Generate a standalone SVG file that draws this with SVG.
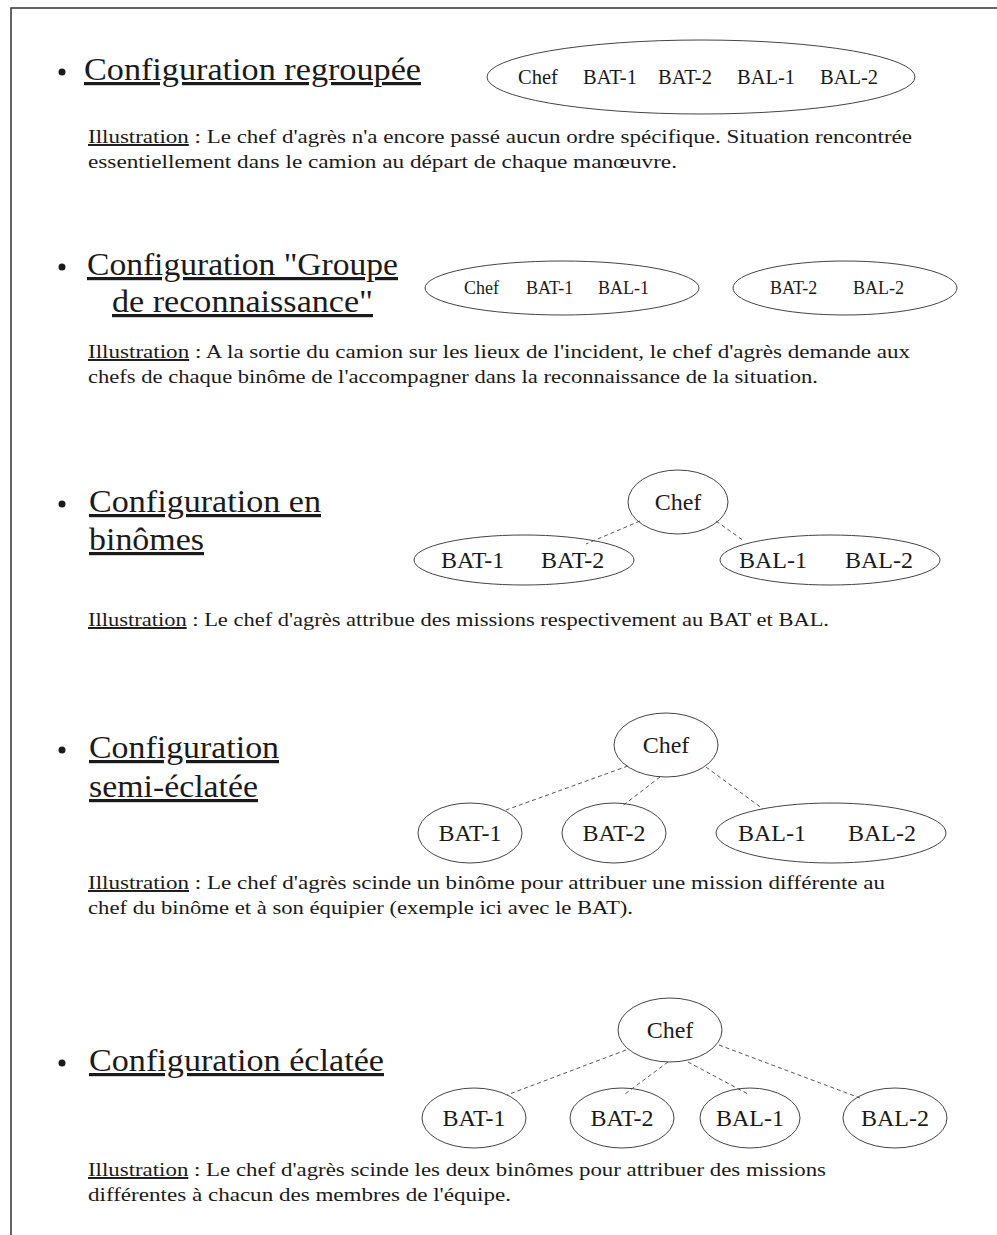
<svg xmlns="http://www.w3.org/2000/svg" width="997" height="1235" viewBox="0 0 997 1235">
<style>
.h{font-family:"Liberation Serif","DejaVu Serif",serif;font-size:32px;fill:#1a1a1a;text-decoration:underline}
.b{font-family:"Liberation Serif","DejaVu Serif",serif;font-size:19.5px;fill:#1a1a1a}
.u{text-decoration:underline}
.n{font-family:"Liberation Serif","DejaVu Serif",serif;fill:#1a1a1a}
.s1{font-size:20.5px}.s2{font-size:18px}.s3{font-size:24px}
.e{fill:none;stroke:#444;stroke-width:1}
.c{stroke:#555;stroke-width:1;stroke-dasharray:4 3;fill:none}
.dot{fill:#1a1a1a}
</style>
<rect width="997" height="1235" fill="#fff"/>
<path d="M11 1235 V8 H997" fill="none" stroke="#333" stroke-width="1.5"/>

<!-- Section 1 -->
<g id="sec1-title">
<circle class="dot" cx="62" cy="72" r="3.5"/>
<text class="h" x="84" y="80" textLength="337" lengthAdjust="spacingAndGlyphs">Configuration regroupée</text>
</g>
<g id="node-s1-group">
<ellipse class="e" cx="701" cy="77" rx="214" ry="37"/>
<text class="n s1" y="84"><tspan x="518">Chef</tspan><tspan x="583">BAT-1</tspan><tspan x="658">BAT-2</tspan><tspan x="737">BAL-1</tspan><tspan x="820">BAL-2</tspan></text>
</g>
<g id="sec1-text">
<text class="b" x="88" y="143" textLength="824" lengthAdjust="spacingAndGlyphs"><tspan class="u">Illustration</tspan> : Le chef d'agrès n'a encore passé aucun ordre spécifique. Situation rencontrée</text>
<text class="b" x="88" y="168" textLength="589" lengthAdjust="spacingAndGlyphs">essentiellement dans le camion au départ de chaque manœuvre.</text>
</g>

<!-- Section 2 -->
<g id="sec2-title">
<circle class="dot" cx="62" cy="267" r="3.5"/>
<text class="h" x="87" y="275" textLength="311" lengthAdjust="spacingAndGlyphs">Configuration "Groupe</text>
<text class="h" x="112" y="312" textLength="261" lengthAdjust="spacingAndGlyphs">de reconnaissance"</text>
</g>
<g id="node-s2-a">
<ellipse class="e" cx="562" cy="288" rx="137" ry="27"/>
<text class="n s2" y="294"><tspan x="464">Chef</tspan><tspan x="526">BAT-1</tspan><tspan x="598">BAL-1</tspan></text>
</g>
<g id="node-s2-b">
<ellipse class="e" cx="845" cy="288" rx="112" ry="27"/>
<text class="n s2" y="294"><tspan x="770">BAT-2</tspan><tspan x="853">BAL-2</tspan></text>
</g>
<g id="sec2-text">
<text class="b" x="88" y="358" textLength="822" lengthAdjust="spacingAndGlyphs"><tspan class="u">Illustration</tspan> : A la sortie du camion sur les lieux de l'incident, le chef d'agrès demande aux</text>
<text class="b" x="88" y="383" textLength="730" lengthAdjust="spacingAndGlyphs">chefs de chaque binôme de l'accompagner dans la reconnaissance de la situation.</text>
</g>

<!-- Section 3 -->
<g id="sec3-title">
<circle class="dot" cx="62" cy="504" r="3.5"/>
<text class="h" x="89" y="512" textLength="232" lengthAdjust="spacingAndGlyphs">Configuration en</text>
<text class="h" x="89" y="550" textLength="115" lengthAdjust="spacingAndGlyphs">binômes</text>
</g>
<g id="connectors-s3">
<line class="c" x1="640" y1="521" x2="586" y2="544"/>
<line class="c" x1="716" y1="521" x2="744" y2="541"/>
</g>
<g id="node-s3-chef">
<ellipse class="e" cx="678" cy="502" rx="50" ry="32"/>
<text class="n s3" x="678" y="510" text-anchor="middle">Chef</text>
</g>
<g id="node-s3-bat">
<ellipse class="e" cx="524" cy="560" rx="110" ry="25"/>
<text class="n s3" y="568"><tspan x="441">BAT-1</tspan><tspan x="541">BAT-2</tspan></text>
</g>
<g id="node-s3-bal">
<ellipse class="e" cx="830" cy="560" rx="110" ry="25"/>
<text class="n s3" y="568"><tspan x="739">BAL-1</tspan><tspan x="845">BAL-2</tspan></text>
</g>
<g id="sec3-text">
<text class="b" x="88" y="626" textLength="741" lengthAdjust="spacingAndGlyphs"><tspan class="u">Illustration</tspan> : Le chef d'agrès attribue des missions respectivement au BAT et BAL.</text>
</g>

<!-- Section 4 -->
<g id="sec4-title">
<circle class="dot" cx="62" cy="750" r="3.5"/>
<text class="h" x="89" y="758" textLength="190" lengthAdjust="spacingAndGlyphs">Configuration</text>
<text class="h" x="89" y="797" textLength="169" lengthAdjust="spacingAndGlyphs">semi-éclatée</text>
</g>
<g id="connectors-s4">
<line class="c" x1="628" y1="766" x2="506" y2="810"/>
<line class="c" x1="660" y1="777" x2="621" y2="807"/>
<line class="c" x1="706" y1="767" x2="763" y2="809"/>
</g>
<g id="node-s4-chef">
<ellipse class="e" cx="666" cy="745" rx="52" ry="32"/>
<text class="n s3" x="666" y="753" text-anchor="middle">Chef</text>
</g>
<g id="node-s4-bat1">
<ellipse class="e" cx="470" cy="833" rx="52" ry="30"/>
<text class="n s3" x="470" y="841" text-anchor="middle">BAT-1</text>
</g>
<g id="node-s4-bat2">
<ellipse class="e" cx="614" cy="833" rx="52" ry="30"/>
<text class="n s3" x="614" y="841" text-anchor="middle">BAT-2</text>
</g>
<g id="node-s4-bal">
<ellipse class="e" cx="831" cy="833" rx="115" ry="30"/>
<text class="n s3" y="841"><tspan x="738">BAL-1</tspan><tspan x="848">BAL-2</tspan></text>
</g>
<g id="sec4-text">
<text class="b" x="88" y="889" textLength="797" lengthAdjust="spacingAndGlyphs"><tspan class="u">Illustration</tspan> : Le chef d'agrès scinde un binôme pour attribuer une mission différente au</text>
<text class="b" x="88" y="914" textLength="545" lengthAdjust="spacingAndGlyphs">chef du binôme et à son équipier (exemple ici avec le BAT).</text>
</g>

<!-- Section 5 -->
<g id="sec5-title">
<circle class="dot" cx="62" cy="1063" r="3.5"/>
<text class="h" x="89" y="1071" textLength="295" lengthAdjust="spacingAndGlyphs">Configuration éclatée</text>
</g>
<g id="connectors-s5">
<line class="c" x1="626" y1="1050" x2="507" y2="1095"/>
<line class="c" x1="668" y1="1062" x2="625" y2="1094"/>
<line class="c" x1="688" y1="1062" x2="748" y2="1094"/>
<line class="c" x1="719" y1="1045" x2="860" y2="1098"/>
</g>
<g id="node-s5-chef">
<ellipse class="e" cx="670" cy="1030" rx="52" ry="32"/>
<text class="n s3" x="670" y="1038" text-anchor="middle">Chef</text>
</g>
<g id="node-s5-bat1">
<ellipse class="e" cx="474" cy="1118" rx="52" ry="30"/>
<text class="n s3" x="474" y="1126" text-anchor="middle">BAT-1</text>
</g>
<g id="node-s5-bat2">
<ellipse class="e" cx="622" cy="1118" rx="52" ry="30"/>
<text class="n s3" x="622" y="1126" text-anchor="middle">BAT-2</text>
</g>
<g id="node-s5-bal1">
<ellipse class="e" cx="750" cy="1118" rx="50" ry="30"/>
<text class="n s3" x="750" y="1126" text-anchor="middle">BAL-1</text>
</g>
<g id="node-s5-bal2">
<ellipse class="e" cx="895" cy="1118" rx="52" ry="30"/>
<text class="n s3" x="895" y="1126" text-anchor="middle">BAL-2</text>
</g>
<g id="sec5-text">
<text class="b" x="88" y="1176" textLength="738" lengthAdjust="spacingAndGlyphs"><tspan class="u">Illustration</tspan> : Le chef d'agrès scinde les deux binômes pour attribuer des missions</text>
<text class="b" x="88" y="1201" textLength="423" lengthAdjust="spacingAndGlyphs">différentes à chacun des membres de l'équipe.</text>
</g>
</svg>
